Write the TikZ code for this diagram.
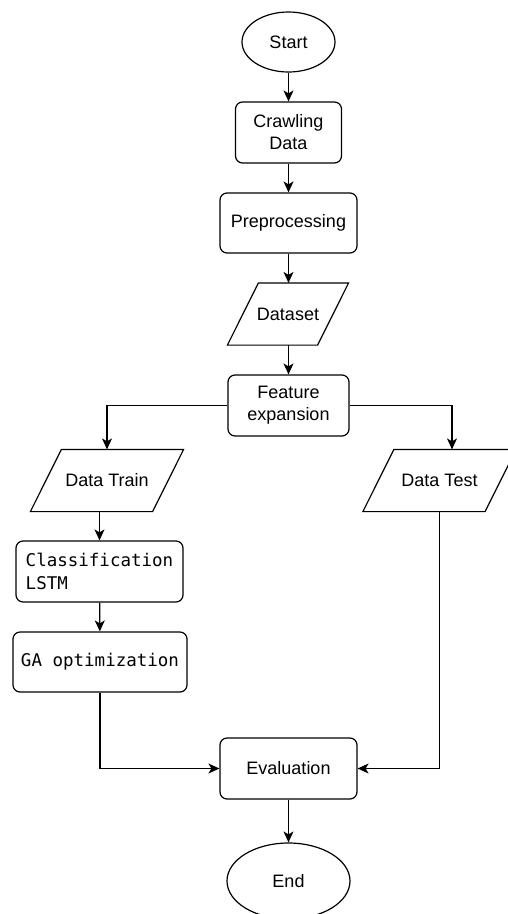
\documentclass[tikz,border=0pt]{standalone}
\usepackage{fontspec}
\setmainfont{Liberation Sans}
\newfontfamily\codefont{DejaVu Sans Mono}
\usetikzlibrary{shapes.geometric,arrows.meta}

% outline of an input/output box: a parallelogram leaning right,
% built on the corners of the (undrawn) rectangular node #1
\newcommand\drawio[1]{%
  \draw[outline] ([xshift=-15.5pt]#1.south west) -- ([xshift=15.5pt]#1.north west)
    -- ([xshift=15.5pt]#1.north east) -- ([xshift=-15.5pt]#1.south east) -- cycle;}

\begin{document}
\begin{tikzpicture}[x=1pt,y=-1pt,
  outline/.style={draw=black, line width=1.2pt, line join=miter},
  base/.style={outline, font=\fontsize{18}{22}\selectfont,
               align=center, inner sep=2pt, text=black},
  term/.style={base, ellipse},
  proc/.style={base, rectangle, rounded corners=7pt},
  io/.style={base, draw=none, rectangle, minimum height=61, minimum width=#1},
  code/.style={font=\codefont\fontsize{17.5}{23}\selectfont, align=left},
  arr/.style={line width=1.2pt, -{Stealth[length=11pt,width=10pt,inset=3pt]}}
]
\useasboundingbox (0,0) rectangle (508,914);

% main column
\node[term, minimum width=93, minimum height=60] (start) at (288.5,42) {Start};
\node[proc, minimum width=106, minimum height=61] (crawl) at (288.5,132.5) {Crawling\\Data};
\node[proc, minimum width=137, minimum height=60] (prep) at (288.5,223) {Preprocessing};
\node[io=89] (ds) at (288,314) {Dataset};
\node[proc, minimum width=121, minimum height=61] (fe) at (288.5,405.5) {Feature\\expansion};

% training branch
\node[io=121] (dtrain) at (107,480.5) {Data Train};
\node[proc, code, minimum width=167, minimum height=61] (cls) at (99.5,571.5) {Classification\\LSTM};
\node[proc, code, minimum width=174, minimum height=60] (ga) at (100,662) {GA optimization};

% test branch
\node[io=121] (dtest) at (439.5,480.5) {Data Test};

% evaluation and end
\node[proc, minimum width=137, minimum height=61] (eval) at (288.5,768.5) {Evaluation};
\node[term, minimum width=123, minimum height=76] (end) at (288.5,881) {End};

% parallelogram outlines
\drawio{ds}
\drawio{dtrain}
\drawio{dtest}

% connectors
\draw[arr] (start) -- (crawl);
\draw[arr] (crawl) -- (prep);
\draw[arr] (prep) -- (prep |- ds.north);
\draw[arr] (ds.south -| fe.north) -- (fe);
\draw[arr] (fe.west) -| (dtrain.north);
\draw[arr] (fe.east) -| ([xshift=12.5pt]dtest.north);
\draw[arr] (cls.north |- dtrain.south) -- (cls.north);
\draw[arr] (cls) -- (ga);
\draw[arr] (ga.south) |- (eval.west);
\draw[arr] (dtest.south) |- (eval.east);
\draw[arr] (eval) -- (end);
\end{tikzpicture}
\end{document}
